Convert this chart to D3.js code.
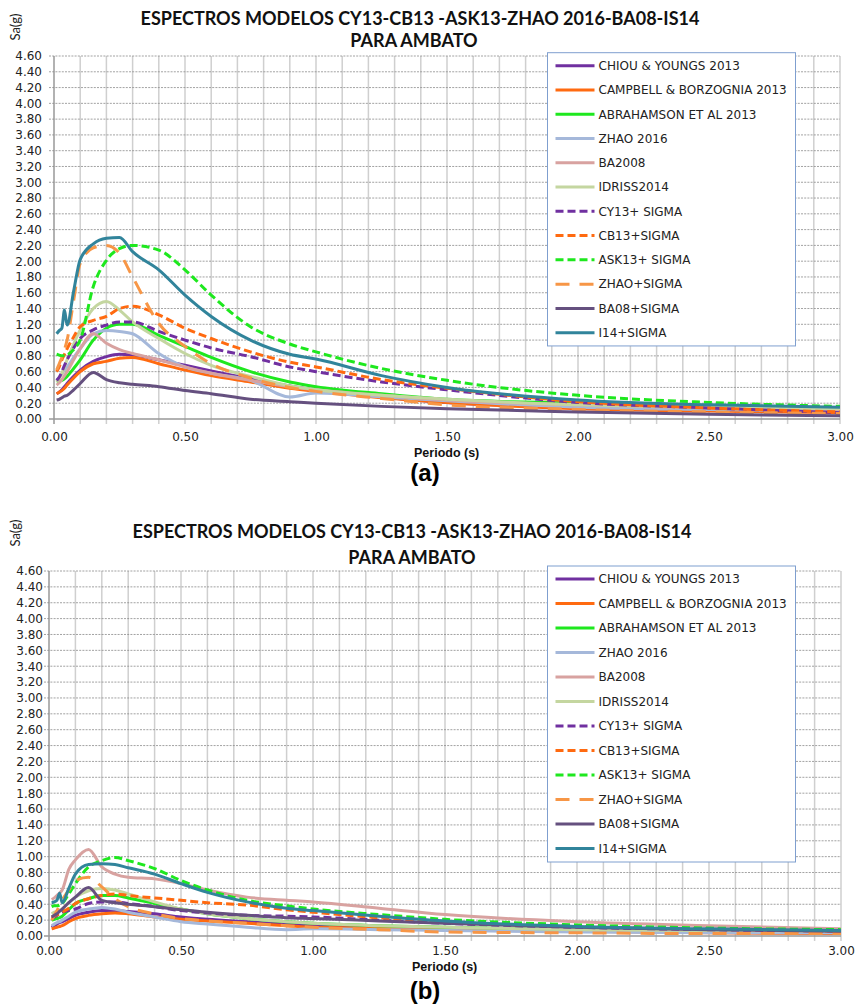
<!DOCTYPE html>
<html>
<head>
<meta charset="utf-8">
<script src="https://cdn.jsdelivr.net/npm/d3@7"></script>
<style>
  body { margin: 0; background: #fff; }
  svg { display: block; }
</style>
</head>
<body>
<svg id="chart" width="855" height="1004"></svg>
<script>
const periods = [0.01, 0.02, 0.03, 0.04, 0.05, 0.075, 0.1, 0.15, 0.2, 0.25, 0.3, 0.4, 0.5, 0.6, 0.75, 0.9, 1.0, 1.25, 1.5, 2.0, 2.5, 3.0]

const names = ['CHIOU & YOUNGS 2013', 'CAMPBELL & BORZOGNIA 2013', 'ABRAHAMSON ET AL 2013', 'ZHAO 2016',
  'BA2008', 'IDRISS2014', 'CY13+ SIGMA', 'CB13+SIGMA', 'ASK13+ SIGMA', 'ZHAO+SIGMA', 'BA08+SIGMA', 'I14+SIGMA']
const colors = ['#7030a0', '#ff6a10', '#1ee81e', '#a5b8da', '#d8a2a0', '#c4d6a0',
  '#7030a0', '#ff6a10', '#1ee81e', '#f79646', '#65507f', '#31849b']
const dashes = [null, null, null, null, null, null, '8,4', '8,4', '8,4', '14,10', null, null]

const yTicks = d3.range(0, 24).map(i => i * 0.2)
const xTicks = [0, 0.5, 1, 1.5, 2, 2.5, 3]
const xGrid = d3.range(0, 31).map(i => i / 10)

// (a) values, Sa(g) at each period
const cy13A = [0.32, 0.34, 0.37, 0.41, 0.45, 0.54, 0.62, 0.73, 0.79, 0.82, 0.81, 0.75, 0.68, 0.61, 0.51, 0.42, 0.37, 0.28, 0.21, 0.15, 0.11, 0.09]
const cb13A = [0.32, 0.34, 0.36, 0.39, 0.43, 0.52, 0.60, 0.70, 0.73, 0.77, 0.78, 0.70, 0.62, 0.55, 0.47, 0.39, 0.35, 0.27, 0.21, 0.13, 0.10, 0.08]
const ask13A = [0.47, 0.48, 0.49, 0.51, 0.54, 0.64, 0.75, 1.00, 1.15, 1.20, 1.20, 1.06, 0.92, 0.78, 0.60, 0.47, 0.41, 0.32, 0.25, 0.20, 0.16, 0.14]
const zhaoA = [0.49, 0.53, 0.57, 0.62, 0.66, 0.78, 0.89, 1.08, 1.12, 1.11, 1.08, 0.83, 0.66, 0.58, 0.49, 0.28, 0.33, 0.28, 0.23, 0.15, 0.12, 0.10]
const ba08A = [0.43, 0.46, 0.50, 0.55, 0.60, 0.75, 0.89, 1.08, 0.96, 0.88, 0.83, 0.75, 0.66, 0.58, 0.49, 0.41, 0.37, 0.30, 0.24, 0.18, 0.14, 0.12]
const idrissA = [0.47, 0.52, 0.58, 0.66, 0.75, 0.95, 1.13, 1.40, 1.49, 1.38, 1.23, 1.02, 0.83, 0.68, 0.54, 0.42, 0.37, 0.30, 0.25, 0.18, 0.15, 0.13]
const cy13sA = [0.49, 0.53, 0.60, 0.68, 0.75, 0.90, 1.02, 1.13, 1.19, 1.23, 1.23, 1.11, 1.00, 0.90, 0.79, 0.66, 0.60, 0.47, 0.37, 0.21, 0.14, 0.08]
const cb13sA = [0.60, 0.66, 0.75, 0.82, 0.89, 1.04, 1.17, 1.25, 1.30, 1.40, 1.43, 1.32, 1.15, 1.02, 0.85, 0.72, 0.66, 0.50, 0.39, 0.22, 0.14, 0.09]
const ask13sA = [0.82, 0.81, 0.80, 0.80, 0.81, 0.88, 1.00, 1.68, 2.01, 2.16, 2.20, 2.14, 1.89, 1.57, 1.17, 0.95, 0.85, 0.64, 0.49, 0.30, 0.21, 0.16]
const zhaosA = [0.62, 0.70, 0.78, 0.88, 1.00, 1.50, 1.97, 2.17, 2.20, 2.10, 1.80, 1.21, 0.92, 0.70, 0.52, 0.40, 0.35, 0.26, 0.18, 0.12, 0.09, 0.07]
const ba08sA = [0.24, 0.25, 0.27, 0.29, 0.30, 0.37, 0.45, 0.59, 0.50, 0.46, 0.44, 0.41, 0.36, 0.32, 0.25, 0.22, 0.20, 0.16, 0.13, 0.09, 0.06, 0.04]
const i14sA = [1.08, 1.12, 1.15, 1.38, 1.19, 1.62, 2.02, 2.22, 2.29, 2.30, 2.12, 1.89, 1.57, 1.30, 1.00, 0.82, 0.76, 0.55, 0.40, 0.24, 0.18, 0.15]

// (b) values
const cy13B = [0.11, 0.13, 0.15, 0.17, 0.18, 0.22, 0.26, 0.30, 0.32, 0.32, 0.31, 0.28, 0.24, 0.21, 0.18, 0.15, 0.13, 0.11, 0.09, 0.07, 0.05, 0.04]
const cb13B = [0.09, 0.10, 0.11, 0.12, 0.13, 0.18, 0.22, 0.26, 0.28, 0.29, 0.28, 0.24, 0.21, 0.19, 0.16, 0.13, 0.11, 0.10, 0.08, 0.06, 0.04, 0.03]
const ask13B = [0.20, 0.21, 0.22, 0.23, 0.25, 0.33, 0.41, 0.47, 0.51, 0.51, 0.48, 0.41, 0.34, 0.28, 0.22, 0.18, 0.16, 0.13, 0.11, 0.08, 0.06, 0.05]
const zhaoB = [0.13, 0.15, 0.17, 0.18, 0.20, 0.25, 0.30, 0.34, 0.36, 0.34, 0.30, 0.24, 0.18, 0.15, 0.11, 0.08, 0.09, 0.08, 0.07, 0.05, 0.04, 0.04]
const ba08B = [0.46, 0.48, 0.51, 0.54, 0.58, 0.84, 0.96, 1.09, 0.87, 0.78, 0.74, 0.72, 0.66, 0.58, 0.49, 0.45, 0.43, 0.35, 0.27, 0.18, 0.13, 0.09]
const idrissB = [0.28, 0.30, 0.31, 0.32, 0.34, 0.42, 0.49, 0.57, 0.60, 0.58, 0.53, 0.43, 0.34, 0.28, 0.22, 0.18, 0.16, 0.13, 0.11, 0.08, 0.07, 0.06]
const cy13sB = [0.22, 0.24, 0.26, 0.28, 0.30, 0.32, 0.34, 0.41, 0.43, 0.43, 0.41, 0.37, 0.32, 0.29, 0.26, 0.25, 0.24, 0.20, 0.16, 0.11, 0.08, 0.06]
const cb13sB = [0.24, 0.25, 0.27, 0.28, 0.30, 0.35, 0.41, 0.47, 0.51, 0.53, 0.51, 0.48, 0.45, 0.42, 0.39, 0.33, 0.30, 0.23, 0.18, 0.12, 0.09, 0.06]
const ask13sB = [0.37, 0.38, 0.38, 0.39, 0.41, 0.53, 0.66, 0.87, 0.95, 0.99, 0.95, 0.85, 0.70, 0.58, 0.45, 0.38, 0.34, 0.27, 0.21, 0.14, 0.10, 0.08]
const zhaosB = [0.20, 0.26, 0.32, 0.38, 0.45, 0.58, 0.70, 0.74, 0.62, 0.47, 0.37, 0.28, 0.22, 0.19, 0.16, 0.13, 0.11, 0.08, 0.05, 0.04, 0.03, 0.03]
const ba08sB = [0.24, 0.26, 0.28, 0.31, 0.34, 0.42, 0.49, 0.61, 0.45, 0.42, 0.40, 0.37, 0.33, 0.30, 0.26, 0.23, 0.22, 0.19, 0.16, 0.11, 0.08, 0.06]
const i14sB = [0.42, 0.43, 0.45, 0.54, 0.42, 0.60, 0.78, 0.90, 0.91, 0.90, 0.86, 0.78, 0.66, 0.55, 0.43, 0.35, 0.32, 0.25, 0.19, 0.12, 0.09, 0.07]

const seriesA = [cy13A, cb13A, ask13A, zhaoA, ba08A, idrissA, cy13sA, cb13sA, ask13sA, zhaosA, ba08sA, i14sA]
const seriesB = [cy13B, cb13B, ask13B, zhaoB, ba08B, idrissB, cy13sB, cb13sB, ask13sB, zhaosB, ba08sB, i14sB]

const title1 = 'ESPECTROS MODELOS CY13-CB13 -ASK13-ZHAO 2016-BA08-IS14'
const title2 = 'PARA AMBATO'

const svg = d3.select('#chart')

const tickFont = 'DejaVu Sans'

function drawPanel (p, series, tag) {
  const g = svg.append('g')
  const x = d3.scaleLinear().domain([0, 3]).range([p.left, p.right])
  const y = d3.scaleLinear().domain([0, 4.6]).range([p.bottom, p.top])

  // Titles
  g.append('text').attr('x', p.t1x).attr('y', p.t1y)
    .attr('text-anchor', 'middle').attr('font-family', 'Lato').attr('font-weight', 'bold')
    .attr('font-size', 18).attr('fill', '#111').text(title1)
  g.append('text').attr('x', p.t2x).attr('y', p.t2y)
    .attr('text-anchor', 'middle').attr('font-family', 'Lato').attr('font-weight', 'bold')
    .attr('font-size', 18).attr('fill', '#111').text(title2)
  g.append('text').attr('transform', `translate(20,${p.labY}) rotate(-90)`)
    .attr('text-anchor', 'middle').attr('font-family', 'Lato')
    .attr('font-size', 13).attr('fill', '#222').text('Sa(g)')

  // Grid
  g.selectAll('.vg').data(xGrid).enter().append('line')
    .attr('x1', d => x(d)).attr('x2', d => x(d))
    .attr('y1', p.top).attr('y2', p.bottom + 5)
    .attr('stroke', d => d === 0 ? '#999' : '#cfcfcf').attr('stroke-width', 1.5)
  g.selectAll('.hg').data(yTicks).enter().append('line')
    .attr('x1', p.left - 5).attr('x2', p.right)
    .attr('y1', d => y(d)).attr('y2', d => y(d))
    .attr('stroke', d => d === 0 ? '#999' : '#8a8a8a')
    .attr('stroke-width', d => d === 0 ? 1.5 : 0.8)
    .attr('stroke-dasharray', d => d === 0 ? null : '2,1.2')

  // Axes labels
  const yAxis = d3.axisLeft(y).tickValues(yTicks).tickFormat(d3.format('.2f')).tickSize(0).tickPadding(p.left - p.labRight)
  g.append('g').attr('transform', `translate(${p.left},0)`).call(yAxis)
    .call(s => s.select('.domain').remove())
    .call(s => s.selectAll('text').attr('font-family', tickFont).attr('font-size', 12).attr('fill', '#222'))
  const xAxis = d3.axisBottom(x).tickValues(xTicks).tickFormat(d3.format('.2f')).tickSize(0).tickPadding(0)
  g.append('g').attr('transform', `translate(0,${p.xLabY})`).call(xAxis)
    .call(s => s.select('.domain').remove())
    .call(s => s.selectAll('text').attr('dy', 0).attr('font-family', tickFont).attr('font-size', 12).attr('fill', '#222'))

  g.append('text').attr('x', p.axTx).attr('y', p.axTy)
    .attr('font-family', 'Liberation Sans').attr('font-weight', 'bold')
    .attr('font-size', 12.5).attr('fill', '#111').text('Periodo (s)')
  g.append('text').attr('x', 425).attr('y', p.tagY).attr('text-anchor', 'middle')
    .attr('font-family', 'Liberation Sans').attr('font-weight', 'bold')
    .attr('font-size', 24).attr('fill', '#000').text(tag)

  // Curves
  const line = d3.line().x((d, i) => x(periods[i])).y(d => y(d)).curve(d3.curveMonotoneX)
  g.append('g').selectAll('path').data(series).enter().append('path')
    .attr('d', line)
    .attr('fill', 'none')
    .attr('stroke', (d, i) => colors[i])
    .attr('stroke-width', 3)
    .attr('stroke-dasharray', (d, i) => dashes[i])
    .attr('stroke-linejoin', 'round')

  // Legend
  const lg = g.append('g').attr('transform', `translate(547.5,${p.legTop})`)
  lg.append('rect').attr('width', 248).attr('height', p.legGap * 12 + 2)
    .attr('fill', '#fff').attr('stroke', '#7f9fcf').attr('stroke-width', 1)
  const items = lg.selectAll('.it').data(names).enter().append('g')
    .attr('transform', (d, i) => `translate(0,${13 + i * p.legGap})`)
  items.append('line').attr('x1', 8).attr('x2', 47)
    .attr('stroke', (d, i) => colors[i]).attr('stroke-width', 3)
    .attr('stroke-dasharray', (d, i) => dashes[i])
  items.append('text').attr('x', 51).attr('dy', '0.36em')
    .attr('font-family', tickFont).attr('font-size', 12).attr('fill', '#222')
    .text(d => d)
}

drawPanel({
  left: 54, right: 840, top: 56, bottom: 419,
  t1x: 420, t1y: 25, t2x: 414, t2y: 47, labY: 27, labRight: 42,
  xLabY: 441, axTx: 414, axTy: 457, tagY: 481, legTop: 52.7, legGap: 24.27
}, seriesA, '(a)')

drawPanel({
  left: 49, right: 841, top: 571, bottom: 936,
  t1x: 412, t1y: 538, t2x: 412, t2y: 564, labY: 533, labRight: 43,
  xLabY: 955, axTx: 412, axTy: 971, tagY: 999, legTop: 566, legGap: 24.5
}, seriesB, '(b)')
</script>
</body>
</html>
